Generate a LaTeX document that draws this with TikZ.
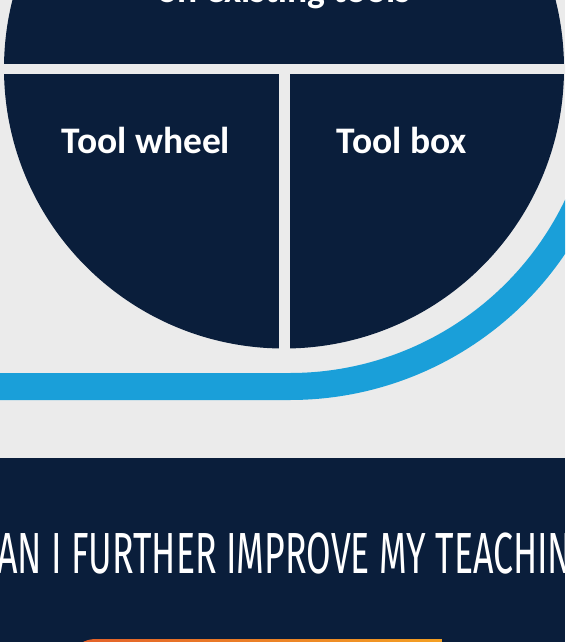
\documentclass[tikz,border=0pt]{standalone}
\usepackage{fontspec}
\usepackage{tikz}
\usepackage{xcolor}
\setmainfont{Carlito}
\newfontfamily\bannerfont[FakeStretch=0.615]{Fira Sans}
\definecolor{navy}{HTML}{0A1E3B}
\definecolor{skyblue}{HTML}{1A9FD9}
\definecolor{paper}{HTML}{EBEBEB}
\definecolor{orangeL}{HTML}{E35F2A}
\definecolor{orangeR}{HTML}{F4A023}

\begin{document}
\begin{tikzpicture}[x=1pt,y=-1pt]
    \tikzstyle{label}=[text=white,font=\bfseries\fontsize{37.5}{40}\selectfont,inner sep=0pt,anchor=base]

    \def\rad{280}

    \useasboundingbox (0,0) rectangle (565,642);
    \clip (0,0) rectangle (565,642);
    \fill[paper] (0,0) rectangle (565,642);

    % the blue band round the wheel
    \draw[skyblue,line width=27pt] (-10,386.5) -- (290,386.5)
        arc[start angle=90,end angle=-20,radius=318.5];

    % the wheel, cut in three
    \fill[navy] (284,68.5) circle (\rad);
    \fill[paper] (-5,64) rectangle (570,74);
    \fill[paper] (278.5,74) rectangle (289.5,360);

    \node[label] (top) at (284,3) {on existing tools};
    \node[label] (wheel) at (146,153) {Tool wheel};
    \node[label] (box) at (402,153) {Tool box};

    % banner
    \fill[navy] (0,458) rectangle (565,642);
    \node[text=white,font=\bannerfont\fontsize{58}{60}\selectfont,inner sep=0pt,anchor=base west]
        (question) at (-3,573) {AN I FURTHER IMPROVE MY TEACHIN};

    % orange button, only its top shows
    \shade[left color=orangeL,right color=orangeR] (442,680) -- (442,639)
        [rounded corners=30] -- (66,639) -- (66,680) -- cycle;
\end{tikzpicture}
\end{document}
